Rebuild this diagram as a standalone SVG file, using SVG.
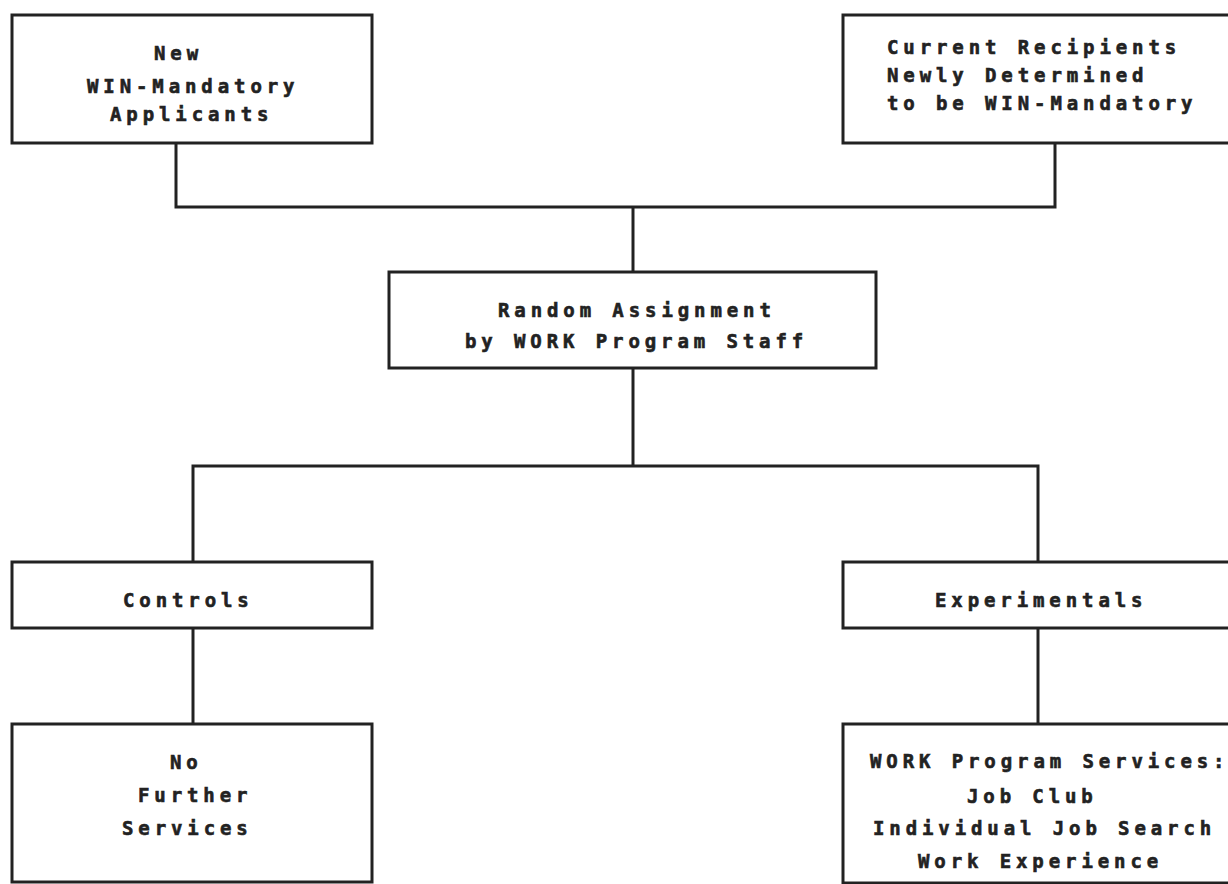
<svg xmlns="http://www.w3.org/2000/svg" width="1228" height="884" viewBox="0 0 1228 884">
<style>
.box{fill:none;stroke:#222;stroke-width:3}
.con{fill:none;stroke:#222;stroke-width:3}
text{font-family:"DejaVu Sans Mono","Liberation Mono",monospace;font-weight:bold;font-size:19px;letter-spacing:4.9px;fill:#222;stroke:#222;stroke-width:0.6px}
</style>
<rect width="1228" height="884" fill="#fff"/>
<g id="connectors">
<path class="con" d="M176 143 V207 H1055 V143"/>
<path class="con" d="M633 207 V272"/>
<path class="con" d="M633 368 V466"/>
<path class="con" d="M193 562 V466 H1038 V562"/>
<path class="con" d="M193 628 V724"/>
<path class="con" d="M1038 628 V724"/>
</g>
<g id="new-applicants">
<rect class="box" x="12" y="15" width="360" height="128"/>
<text x="154" y="60">New</text>
<text x="87" y="93">WIN-Mandatory</text>
<text x="110" y="121">Applicants</text>
</g>
<g id="current-recipients">
<rect class="box" x="843" y="15" width="400" height="128"/>
<text x="887" y="54">Current Recipients</text>
<text x="887" y="82">Newly Determined</text>
<text x="887" y="110">to be WIN-Mandatory</text>
</g>
<g id="random-assignment">
<rect class="box" x="389" y="272" width="487" height="96"/>
<text x="498" y="317">Random Assignment</text>
<text x="465" y="348">by WORK Program Staff</text>
</g>
<g id="controls">
<rect class="box" x="12" y="562" width="360" height="66"/>
<text x="123" y="607">Controls</text>
</g>
<g id="experimentals">
<rect class="box" x="843" y="562" width="400" height="66"/>
<text x="935" y="607">Experimentals</text>
</g>
<g id="no-further-services">
<rect class="box" x="12" y="724" width="360" height="158"/>
<text x="170" y="769">No</text>
<text x="138" y="802">Further</text>
<text x="122" y="835">Services</text>
</g>
<g id="work-program-services">
<rect class="box" x="843" y="724" width="400" height="159"/>
<text x="870" y="768">WORK Program Services:</text>
<text x="967" y="803">Job Club</text>
<text x="873" y="835">Individual Job Search</text>
<text x="918" y="868">Work Experience</text>
</g>
</svg>
